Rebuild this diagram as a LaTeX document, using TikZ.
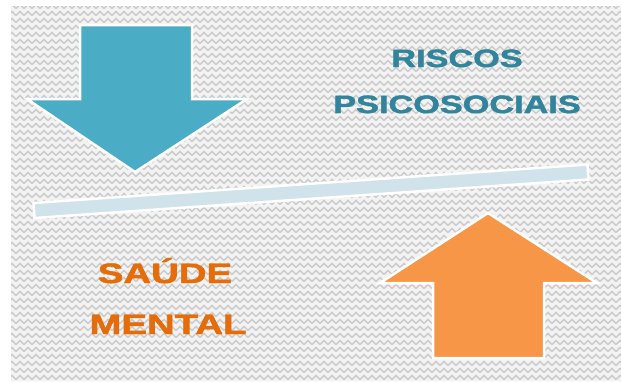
\documentclass[tikz,border=0pt]{standalone}
\usepackage{fontspec}
\setmainfont{Liberation Sans}
\newfontfamily\heavyfont[FakeBold=1.6]{Liberation Sans Bold}
\usetikzlibrary{patterns}

\definecolor{arrowblue}{HTML}{4BACC6}
\definecolor{arroworange}{HTML}{F79646}
\definecolor{titleblue}{HTML}{31849B}
\definecolor{titleorange}{HTML}{E46C0A}
\definecolor{beamblue}{HTML}{D0E2EA}
\definecolor{weavegrey}{HTML}{CDCDCD}
\definecolor{weavebase}{HTML}{F3F3F3}

% zigzag weave used as the backdrop texture
\pgfdeclarepatternformonly{bgweave}{\pgfqpoint{-1pt}{-1pt}}{\pgfqpoint{9pt}{9pt}}{\pgfqpoint{8pt}{7pt}}{%
  \pgfsetlinewidth{1.6pt}%
  \pgfpathmoveto{\pgfqpoint{0pt}{1.5pt}}%
  \pgfpathlineto{\pgfqpoint{4pt}{5.5pt}}%
  \pgfpathlineto{\pgfqpoint{8pt}{1.5pt}}%
  \pgfusepath{stroke}%
}

\begin{document}
\begin{tikzpicture}[x=1pt,y=-1pt,
  shapeedge/.style={draw=white,line width=2.5pt,line join=miter},
  caption/.style={anchor=base,inner sep=0pt}]
\useasboundingbox (0,0) rectangle (621,381);
\fill[white] (0,0) rectangle (621,381);

% textured backdrop
\fill[weavebase] (11,6) rectangle (621,381);
\fill[pattern=bgweave,pattern color=weavegrey] (11,6) rectangle (621,381);

% tilted balance beam
\filldraw[shapeedge,fill=beamblue]
  (33.5,203) -- (587.5,164.5) -- (588.5,179.5) -- (34.5,218) -- cycle;

% downward arrow (blue)
\filldraw[shapeedge,fill=arrowblue]
  (80,25) -- (192,25) -- (192,99) -- (247,99) -- (135,172)
  -- (27,99) -- (80,99) -- cycle;

% upward arrow (orange)
\filldraw[shapeedge,fill=arroworange]
  (488,213) -- (597,283) -- (544,283) -- (544,358) -- (433,358)
  -- (433,283) -- (380,283) -- cycle;

% captions
\node[caption,text=titleblue,font=\heavyfont\fontsize{25}{25}\selectfont]
  (riscos) at (457,67) {\scalebox{1.37}[1]{RISCOS}};
\node[caption,text=titleblue,font=\heavyfont\fontsize{25}{25}\selectfont]
  (psico) at (457,113) {\scalebox{1.37}[1]{PSICOSOCIAIS}};
\node[caption,text=titleorange,font=\heavyfont\fontsize{28}{28}\selectfont]
  (saude) at (165,283) {\scalebox{1.37}[1]{SAÚDE}};
\node[caption,text=titleorange,font=\heavyfont\fontsize{28}{28}\selectfont]
  (mental) at (168,334) {\scalebox{1.37}[1]{MENTAL}};
\end{tikzpicture}
\end{document}
